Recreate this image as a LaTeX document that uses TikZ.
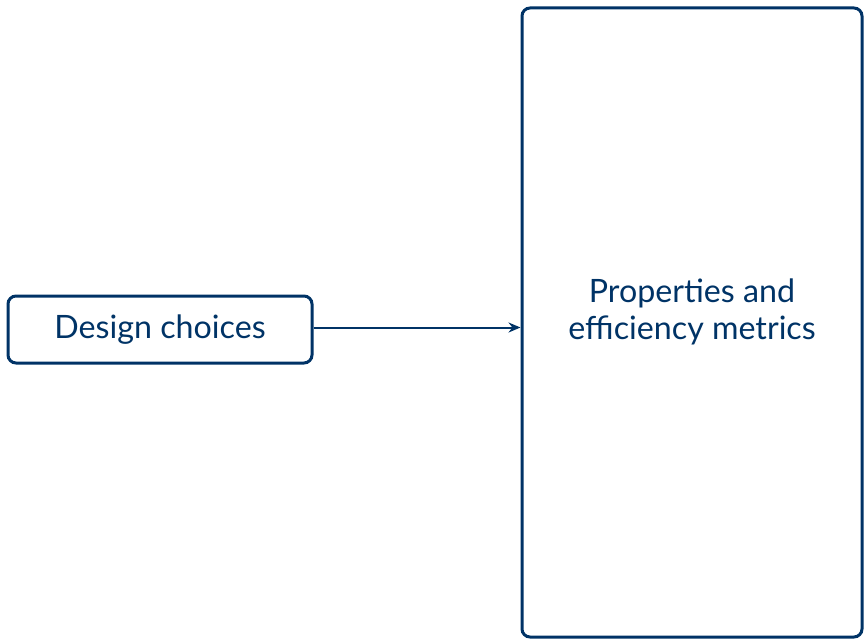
\documentclass[tikz,border=0pt]{standalone}
\usepackage{fontspec}
\setmainfont{Lato}
\usetikzlibrary{arrows.meta}
\usetikzlibrary{positioning}
\definecolor{navy}{RGB}{0,51,102}
\tikzset{
  block/.style={draw=navy,line width=1.5pt,rounded corners=4pt,text=navy},
  conn/.style={draw=navy,line width=1pt,-{Stealth[length=6pt,width=5pt]}}
}
\begin{document}
\begin{tikzpicture}[x=1pt,y=1pt,font=\fontsize{16.1}{18.5}\selectfont]
        \useasboundingbox (0,0) rectangle (432,319.5);
        \node[block,minimum width=152pt,minimum height=33.5pt] (design) at (80,154.75) {Design choices};
        \node[block,minimum width=170pt,minimum height=314.5pt] (props) at (346,158.25) {};
        \node[text=navy,align=center] (propstext) at (346,163.5) {Properties and\\efficiency metrics};
        \path[conn] ([yshift=1pt]design.east) -- ([yshift=1pt]props.west |- design.east);
    \end{tikzpicture}
\end{document}
